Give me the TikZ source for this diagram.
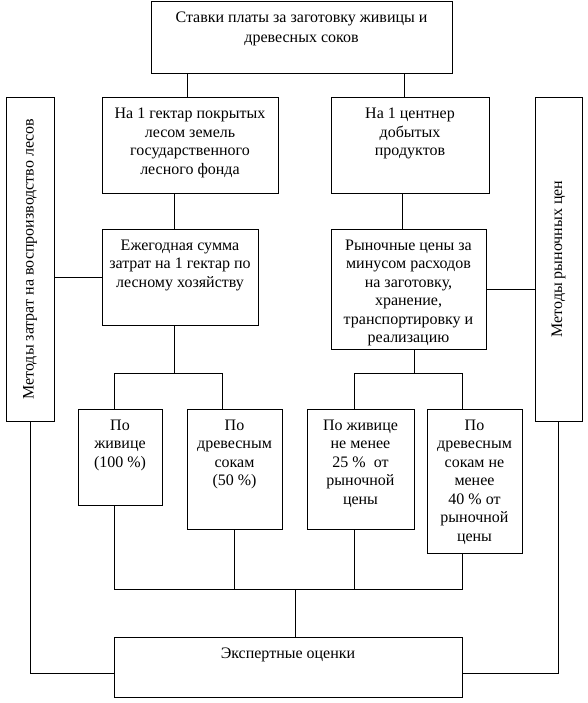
\documentclass[tikz,border=0pt]{standalone}
\usepackage{fontspec}
\setmainfont{Liberation Serif}
\newfontfamily\boxfont{Liberation Serif}

\begin{document}
\begin{tikzpicture}[
		x=1pt, y=-1pt,
		line width=0.8pt,
		label distance=-11pt,
		every node/.style={rectangle, draw, line width=0.8pt, inner sep=0pt},
		every label/.append style={draw=none, align=center, anchor=north,
			font=\boxfont\fontsize{16}{18.5}\selectfont}
	]
  \useasboundingbox (0,0) rectangle (587,703);
  % upper boxes
  \node (rates) [minimum width=301pt, minimum height=72pt,
    label={north:{Ставки платы за заготовку живицы и\\[1.5pt]древесных соков}}] at (301.5,37) {};
  \node (per_ha) [minimum width=176pt, minimum height=96pt, label distance=-17pt,
    label={north:{На 1 гектар покрытых\\лесом земель\\государственного\\лесного фонда}}] at (190,145) {};
  \node (per_c) [minimum width=158pt, minimum height=96pt, label distance=-17pt,
    label={north:{На 1 центнер\\добытых\\продуктов}}] at (410,145) {};
  \node (cost_ha) [minimum width=156pt, minimum height=96pt,
    label={north:{Ежегодная сумма\\затрат на 1 гектар по\\лесному хозяйству}}] at (180,277) {};
  \node (mkt_p) [minimum width=155pt, minimum height=120pt,
    label={north:{Рыночные цены за\\минусом расходов\\на заготовку,\\хранение,\\транспортировку и\\реализацию}}] at (408.5,289) {};
  % side boxes
  \node (m_cost) [minimum width=48pt, minimum height=324pt, label distance=0pt,
    label={[rotate=90, anchor=center]center:{Методы затрат на воспроизводство лесов}}] at (30,259) {};
  \node (m_mkt) [minimum width=47pt, minimum height=324pt, label distance=0pt,
    label={[rotate=90, anchor=center]center:{Методы рыночных цен}}] at (558.5,259) {};
  % lower boxes
  \node (res_100) [minimum width=84pt, minimum height=96pt,
    label={north:{По\\живице\\(100 \%)}}] at (120,457) {};
  \node (sap_50) [minimum width=95pt, minimum height=120pt,
    label={north:{По\\древесным\\сокам\\(50 \%)}}] at (234.5,469) {};
  \node (res_25) [minimum width=107pt, minimum height=120pt,
    label={north:{По живице\\не менее\\25 \%\ \ от\\рыночной\\цены}}] at (360.5,469) {};
  \node (sap_40) [minimum width=95pt, minimum height=144pt,
    label={north:{По\\древесным\\сокам не\\менее\\40 \% от\\рыночной\\цены}}] at (474.5,481) {};
  \node (expert) [minimum width=348pt, minimum height=60pt, label distance=-14pt,
    label={north:{Экспертные оценки}}] at (288,667) {};

  \coordinate (fk_l1) at (114,373);
  \coordinate (fk_l2) at (222,373);
  \coordinate (fk_r1) at (354,373);
  \coordinate (fk_r2) at (462,373);
  \coordinate (jn_1) at (114,589);
  \coordinate (jn_2) at (234,589);
  \coordinate (jn_3) at (354,589);
  \coordinate (jn_4) at (462,589);
  \coordinate (jn_m) at (295,589);

  % connectors
  \draw ([xshift=-3pt]per_ha.north) -- ([xshift=-3pt]per_ha.north |- rates.south);
  \draw ([xshift=-6pt]per_c.north) -- ([xshift=-6pt]per_c.north |- rates.south);
  \draw ([xshift=-6pt]cost_ha.north) -- ([xshift=-6pt]cost_ha.north |- per_ha.south);
  \draw ([xshift=-6pt]mkt_p.north) -- ([xshift=-6pt]mkt_p.north |- per_c.south);
  \draw (cost_ha.west) -- (cost_ha.west -| m_cost.east);
  \draw (mkt_p.east) -- (mkt_p.east -| m_mkt.west);
  \draw ([xshift=-6pt]cost_ha.south) -- ([xshift=-6pt]cost_ha.south |- fk_l1);
  \draw (res_100.north -| fk_l1) |- (fk_l2) -- (sap_50.north -| fk_l2);
  \draw ([xshift=6pt]mkt_p.south) -- ([xshift=6pt]mkt_p.south |- fk_r1);
  \draw (res_25.north -| fk_r1) |- (fk_r2) -- (sap_40.north -| fk_r2);
  \draw (res_100.south -| jn_1) -- (jn_1) -- (jn_4) -- (sap_40.south -| jn_4);
  \draw (sap_50.south -| jn_2) -- (jn_2);
  \draw (res_25.south -| jn_3) -- (jn_3);
  \draw (jn_m) -- (expert.north -| jn_m);
  \draw (m_cost.south) |- ([yshift=-6pt]expert.west);
  \draw (m_mkt.south) |- ([yshift=-6pt]expert.east);
\end{tikzpicture}
\end{document}
